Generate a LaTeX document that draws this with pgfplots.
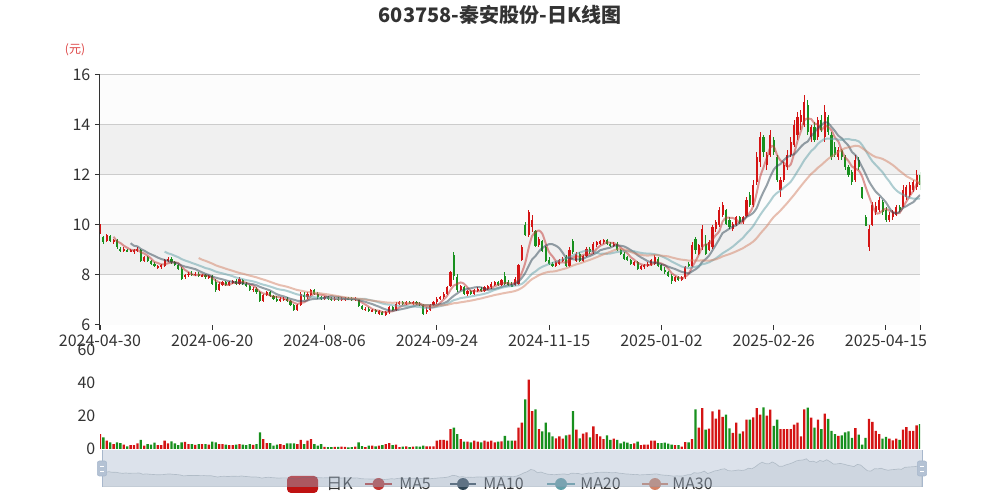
\documentclass[border=0pt]{standalone}
\usepackage{fontspec}
\setmainfont{Noto Sans CJK SC}
\usepackage{pgfplots}
\usepackage{pgfplotstable}
\pgfplotsset{compat=1.18}

\definecolor{upc}{HTML}{D41414}
\definecolor{dnc}{HTML}{18901E}
\definecolor{ma5c}{HTML}{C23531}
\definecolor{ma10c}{HTML}{2F4554}
\definecolor{ma20c}{HTML}{61A0A8}
\definecolor{ma30c}{HTML}{D48265}
\definecolor{txt}{HTML}{333333}
\definecolor{bandc}{HTML}{F0F0F0}
\definecolor{lightc}{HTML}{FCFCFC}
\definecolor{gridc}{HTML}{CCCCCC}
\definecolor{fillerc}{HTML}{A7B7CC}
\definecolor{shadowc}{HTML}{2F4554}

% daily candles: index, open, high, low, close, volume
\pgfplotstableread{
i o h l c v
0 9.70 10.05 9.65 10.00 9
1 9.50 9.55 9.25 9.30 7
2 9.35 9.65 9.30 9.60 5
3 9.55 9.60 9.30 9.35 4
4 9.35 9.45 9.25 9.40 3
5 9.40 9.45 9.05 9.10 4
6 9.05 9.10 8.90 8.95 3.5
7 8.95 9.10 8.90 9.05 2.6
8 9.00 9.05 8.90 8.95 1.6
9 8.95 9.05 8.90 9.00 2.3
10 8.90 9.05 8.85 9.00 2.3
11 8.95 9.10 8.90 9.05 3.4
12 9.00 9.05 8.50 8.55 5.6
13 8.55 8.75 8.50 8.70 2
14 8.70 8.75 8.50 8.55 3
15 8.55 8.60 8.40 8.45 2.6
16 8.45 8.50 8.30 8.35 3.8
17 8.30 8.40 8.25 8.35 2.4
18 8.30 8.45 8.25 8.40 2.4
19 8.35 8.65 8.30 8.60 5
20 8.55 8.70 8.50 8.65 3.4
21 8.65 8.70 8.45 8.50 4.6
22 8.50 8.55 8.35 8.40 3.4
23 8.40 8.45 8.20 8.25 2.4
24 8.25 8.30 7.80 7.85 4
25 7.90 8.05 7.85 8.00 4.3
26 8.00 8.10 7.90 8.05 3
27 8.05 8.15 7.95 8.00 3
28 8.00 8.10 7.95 8.05 2.5
29 8.05 8.10 7.90 7.95 3
30 7.95 8.05 7.90 8.00 3
31 8.00 8.05 7.85 7.90 3
32 7.90 8.00 7.85 7.95 2.6
33 7.95 8.00 7.60 7.65 4.5
34 7.70 7.85 7.30 7.40 4
35 7.40 7.70 7.35 7.65 3
36 7.60 7.75 7.55 7.70 3
37 7.70 7.75 7.55 7.60 2.6
38 7.60 7.75 7.55 7.70 2.4
39 7.70 7.80 7.65 7.75 2.4
40 7.75 7.85 7.60 7.65 2.6
41 7.65 7.90 7.60 7.85 3
42 7.80 7.85 7.60 7.65 2.6
43 7.65 7.70 7.50 7.55 2.4
44 7.55 7.60 7.35 7.40 3
45 7.40 7.50 7.30 7.45 2.5
46 7.45 7.50 7.25 7.30 3
47 7.30 7.35 6.90 6.95 10
48 6.95 7.25 6.90 7.20 6
49 7.20 7.35 7.15 7.30 3.5
50 7.30 7.35 7.10 7.15 3.5
51 7.15 7.20 7.00 7.05 2
52 7.05 7.15 6.90 6.95 2.6
53 6.95 7.10 6.90 7.05 3
54 7.00 7.10 6.95 7.05 2.4
55 7.05 7.10 6.90 6.95 3.4
56 6.95 7.00 6.75 6.80 3.4
57 6.80 6.85 6.55 6.60 3.4
58 6.60 6.85 6.55 6.80 3
59 6.80 7.30 6.75 7.25 5.5
60 7.20 7.30 7.00 7.10 3
61 7.10 7.30 7.05 7.25 5
62 7.20 7.45 7.15 7.40 6
63 7.40 7.45 7.20 7.25 3
64 7.25 7.30 7.05 7.10 2
65 7.10 7.15 7.00 7.05 3
66 7.05 7.15 7.00 7.10 1.3
67 7.10 7.15 7.00 7.05 1.2
68 7.05 7.10 6.95 7.00 1.2
69 7.00 7.10 6.95 7.05 1.3
70 7.05 7.10 6.95 7.00 1.3
71 7.00 7.10 6.95 7.05 1.4
72 7.00 7.10 6.95 7.05 1.3
73 7.07 7.10 7.00 7.03 1
74 7.05 7.10 6.95 7.00 1.2
75 7.00 7.10 6.95 7.05 1.4
76 7.05 7.05 6.70 6.75 4
77 6.75 6.80 6.60 6.65 1.8
78 6.60 6.70 6.55 6.65 1.2
79 6.65 6.70 6.50 6.55 2
80 6.55 6.65 6.50 6.60 2
81 6.60 6.62 6.45 6.50 1.6
82 6.45 6.60 6.40 6.55 2
83 6.50 6.55 6.38 6.40 2.4
84 6.40 6.55 6.35 6.50 3
85 6.50 6.75 6.45 6.70 3.5
86 6.70 6.75 6.55 6.60 2.4
87 6.60 6.90 6.55 6.85 2.6
88 6.85 6.95 6.80 6.90 1.2
89 6.90 6.95 6.80 6.85 1.4
90 6.85 6.95 6.80 6.90 1.6
91 6.90 6.95 6.82 6.85 1.2
92 6.85 6.95 6.80 6.90 1.5
93 6.90 6.95 6.80 6.85 1.6
94 6.85 6.90 6.75 6.80 1.4
95 6.80 6.82 6.40 6.45 2
96 6.50 6.70 6.45 6.60 1.6
97 6.60 6.85 6.55 6.80 1.6
98 6.80 6.95 6.75 6.90 1.6
99 6.90 7.10 6.85 7.05 5
100 7.05 7.15 7.00 7.10 5.6
101 7.10 7.30 7.05 7.25 5.6
102 7.25 7.55 7.20 7.50 5
103 7.55 8.15 7.50 8.10 12
104 8.80 8.90 7.80 7.95 13
105 7.90 8.05 7.30 7.40 9
106 7.40 7.60 7.35 7.55 6
107 7.50 7.55 7.20 7.25 4.5
108 7.25 7.40 7.15 7.35 4.5
109 7.35 7.40 7.20 7.25 4
110 7.25 7.45 7.20 7.40 5
111 7.35 7.50 7.30 7.45 4.5
112 7.45 7.50 7.30 7.35 4
113 7.35 7.55 7.30 7.50 5
114 7.45 7.60 7.40 7.55 4.5
115 7.50 7.70 7.45 7.65 5
116 7.60 7.75 7.55 7.70 4
117 7.70 7.75 7.55 7.60 4.5
118 7.60 7.85 7.55 7.80 4.6
119 7.95 8.10 7.60 7.65 8
120 7.70 7.80 7.55 7.60 5
121 7.60 7.70 7.50 7.55 5
122 7.60 7.90 7.55 7.85 5
123 7.65 8.45 7.60 8.40 13
124 8.60 9.20 8.55 9.10 16
125 10.00 10.10 9.55 9.60 30
126 9.60 10.60 9.50 10.50 42
127 9.90 10.40 9.70 10.20 23
128 9.75 9.80 9.10 9.15 24
129 9.20 9.50 9.10 9.45 12
130 9.35 9.40 8.90 8.95 10.7
131 9.10 9.15 8.50 8.55 16
132 8.60 8.70 8.40 8.45 10
133 8.45 8.50 8.30 8.35 7.7
134 8.35 8.55 8.30 8.50 6.5
135 8.45 8.65 8.40 8.60 7.7
136 8.55 8.70 8.50 8.65 6.3
137 8.70 8.80 8.30 8.35 8.3
138 8.35 9.10 8.30 9.00 8.7
139 9.35 9.45 8.85 8.90 23
140 8.55 8.90 8.50 8.85 11.7
141 8.85 8.90 8.50 8.55 6.5
142 8.55 8.80 8.50 8.75 9.3
143 8.75 9.10 8.70 9.05 10
144 9.05 9.10 8.85 8.90 7
145 8.90 9.30 8.85 9.25 13.7
146 9.20 9.35 9.10 9.30 9
147 9.25 9.40 9.20 9.35 7.7
148 9.30 9.45 9.25 9.40 6
149 9.40 9.45 9.20 9.25 8.3
150 9.25 9.30 9.10 9.15 5.6
151 9.15 9.30 9.10 9.25 6.3
152 9.25 9.30 8.95 9.00 5.6
153 9.00 9.05 8.80 8.85 3.4
154 8.85 8.90 8.60 8.65 4.4
155 8.70 8.75 8.55 8.60 3.8
156 8.60 8.65 8.40 8.45 3
157 8.40 8.55 8.35 8.50 3.4
158 8.50 8.55 8.20 8.25 4.4
159 8.25 8.40 8.20 8.35 2.4
160 8.30 8.45 8.25 8.40 2.6
161 8.35 8.50 8.30 8.45 2.6
162 8.40 8.65 8.35 8.60 5
163 8.45 8.80 8.40 8.70 5
164 8.65 8.70 8.30 8.35 3.6
165 8.40 8.45 8.15 8.20 3.6
166 8.20 8.30 8.05 8.10 3.8
167 8.10 8.15 7.90 7.95 3.2
168 7.95 8.05 7.65 7.75 2.6
169 7.75 7.95 7.70 7.90 2.4
170 7.90 7.95 7.75 7.80 2.4
171 7.80 7.95 7.75 7.90 1.5
172 7.90 8.35 7.85 8.30 4.2
173 8.45 8.50 8.30 8.35 4
174 8.35 9.30 8.30 9.20 6
175 9.45 9.50 8.85 9.00 24
176 8.85 9.25 8.80 9.20 13
177 9.10 10.00 9.00 9.85 24.8
178 9.25 9.60 8.80 8.85 11.7
179 9.00 9.40 8.95 9.30 12.3
180 9.10 10.00 9.05 9.90 22.8
181 9.85 10.20 9.70 10.10 18.4
182 10.00 10.70 9.90 10.60 23.8
183 10.40 10.90 10.30 10.80 19.4
184 10.60 10.65 10.00 10.05 20.8
185 10.20 10.30 9.85 9.90 12.5
186 9.85 10.10 9.75 10.05 9.7
187 10.00 10.35 9.95 10.30 16
188 10.30 10.35 10.05 10.10 9.3
189 10.10 10.35 10.05 10.30 10.7
190 10.35 11.10 10.30 11.00 17.8
191 11.20 11.30 10.70 10.80 17.8
192 10.80 11.80 10.70 11.60 19.2
193 11.70 12.90 11.60 12.70 24.8
194 12.50 13.70 12.30 13.50 20.8
195 13.50 13.60 12.70 12.90 25.2
196 12.40 12.90 12.20 12.80 20.2
197 12.80 13.80 12.70 13.60 23.8
198 13.40 13.50 12.80 12.90 14
199 12.70 12.80 11.70 11.80 17.8
200 11.40 11.90 11.10 11.80 12
201 11.80 12.50 11.70 12.40 12
202 12.30 13.00 12.20 12.80 12
203 12.80 13.50 12.70 13.30 12
204 13.20 14.20 13.10 14.00 14.7
205 13.60 14.50 13.40 14.30 16
206 14.10 14.60 13.80 14.40 7.7
207 14.00 15.20 13.90 14.90 24
208 14.80 15.00 13.60 13.70 25
209 13.50 14.00 13.30 13.90 19
210 13.90 14.10 13.30 13.40 13
211 13.50 14.30 13.40 14.20 17.8
212 14.20 14.40 13.70 13.80 12
213 13.50 14.80 13.30 14.50 21.4
214 14.30 14.40 13.60 13.70 18.2
215 13.60 13.70 12.60 12.70 11
216 13.10 13.30 12.70 12.80 9
217 12.70 13.10 12.60 13.00 8
218 13.00 13.05 12.60 12.70 8.3
219 12.70 12.80 12.20 12.30 10
220 12.30 12.40 11.90 12.00 10.7
221 12.10 12.20 11.60 11.70 6.7
222 11.80 12.80 11.70 12.60 12.7
223 12.60 12.70 12.20 12.30 8.7
224 11.50 11.50 11.05 11.07 2.6
225 10.30 10.40 9.95 9.96 6.7
226 9.10 10.00 8.96 9.85 18.2
227 10.00 10.90 9.95 10.80 16.4
228 10.50 10.90 10.40 10.75 11
229 10.60 11.10 10.50 11.00 9
230 10.90 11.00 10.40 10.50 6.3
231 10.60 10.70 10.10 10.20 7.3
232 10.20 10.50 10.10 10.40 6.3
233 10.30 10.60 10.20 10.50 5.3
234 10.40 10.80 10.35 10.70 6.3
235 10.70 10.80 10.50 10.60 5.6
236 10.70 11.60 10.70 11.40 11.7
237 11.10 11.60 11.00 11.50 13.3
238 11.20 11.70 11.10 11.60 11
239 11.40 11.80 11.30 11.70 11
240 11.50 12.20 11.40 12.00 14.3
241 12.00 12.10 11.40 11.60 15
}\kdata

% running sum of closes (kept in \csv@<row> too), then moving averages from it
\newcount\marow
\global\marow=0
\def\csacc{0}
\pgfplotstablecreatecol[create col/assign/.code={%
  \getthisrow{c}\cval
  \pgfmathsetmacro\csnew{\csacc+\cval}%
  \xdef\csacc{\csnew}%
  \expandafter\xdef\csname csv@\the\marow\endcsname{\csnew}%
  \global\advance\marow by 1
  \pgfkeyslet{/pgfplots/table/create col/next content}\csnew}]{cs}\kdata

\newcommand\addma[2]{%
  \global\marow=0
  \pgfplotstablecreatecol[create col/assign/.code={%
    \ifnum\marow<\numexpr#1-1\relax
      \def\maval{nan}%
    \else
      \edef\macur{\csname csv@\the\marow\endcsname}%
      \ifnum\marow<#1\relax
        \def\maprev{0}%
      \else
        \edef\maprev{\csname csv@\the\numexpr\marow-#1\relax\endcsname}%
      \fi
      \pgfmathsetmacro\maval{(\macur-\maprev)/#1}%
    \fi
    \global\advance\marow by 1
    \pgfkeyslet{/pgfplots/table/create col/next content}\maval}]{#2}\kdata}
\addma{5}{ma5}
\addma{10}{ma10}
\addma{20}{ma20}
\addma{30}{ma30}

\pgfplotsset{
  kgrid/.style={scale only axis, width=615pt, xmin=0, xmax=241,
    tick label style={font=\fontsize{12}{14}\selectfont, text=txt},
    /pgf/number format/assume math mode=true},
  upbar/.style={restrict expr to domain={\thisrow{c}-\thisrow{o}}{0:100}},
  dnbar/.style={restrict expr to domain={\thisrow{c}-\thisrow{o}}{-100:-0.0001}},
  candle/.style={draw=none, mark=none, forget plot,
    error bars/y dir=both, error bars/y explicit, error bars/error mark=none},
}

\begin{document}
\begin{tikzpicture}
\path[use as bounding box] (0,0) rectangle (750pt,375pt);

\node[font=\fontsize{15}{18}\selectfont\bfseries, text=txt] at (375pt,363.75pt) {603758-秦安股份-日K线图};
\node[font=\fontsize{9}{11}\selectfont, text=upc!80] at (56.25pt,337.5pt) {(元)};

% volume
\begin{axis}[kgrid, at={(75pt,38.25pt)}, anchor=south west, height=74.25pt,
  ymin=0, ymax=60, ytick={0,20,40,60},
  hide x axis, axis y line*=left,
  y axis line style={draw=none}, ytick style={draw=none}]
\addplot[ybar, bar width=1.75pt, bar shift=0pt, fill=upc, draw=none, upbar] table[x=i, y=v]{\kdata};
\addplot[ybar, bar width=1.75pt, bar shift=0pt, fill=dnc, draw=none, dnbar] table[x=i, y=v]{\kdata};
\end{axis}

% price
\begin{axis}[kgrid, at={(75pt,131.25pt)}, anchor=south west, height=187.5pt,
  ymin=6, ymax=16, ytick={6,8,...,16},
  xtick={0,33,66,99,132,165,198,231,241},
  xticklabels={2024-04-30,2024-06-20,2024-08-06,2024-09-24,2024-11-15,2025-01-02,2025-02-26,2025-04-15,{}},
  axis x line*=bottom, axis y line*=left,
  axis line style={draw=txt, line width=0.75pt},
  tick style={draw=txt, line width=0.75pt},
  tick align=outside, major tick length=3.75pt]
% split areas and grid lines
\fill[lightc] (axis cs:0,6) rectangle (axis cs:241,8);
\fill[bandc] (axis cs:0,8) rectangle (axis cs:241,10);
\fill[lightc] (axis cs:0,10) rectangle (axis cs:241,12);
\fill[bandc] (axis cs:0,12) rectangle (axis cs:241,14);
\fill[lightc] (axis cs:0,14) rectangle (axis cs:241,16);
\draw[gridc, line width=0.75pt] (axis cs:0,8) -- (axis cs:241,8);
\draw[gridc, line width=0.75pt] (axis cs:0,10) -- (axis cs:241,10);
\draw[gridc, line width=0.75pt] (axis cs:0,12) -- (axis cs:241,12);
\draw[gridc, line width=0.75pt] (axis cs:0,14) -- (axis cs:241,14);
\draw[gridc, line width=0.75pt] (axis cs:0,16) -- (axis cs:241,16);
% wicks
\addplot[candle, upbar, error bars/error bar style={draw=upc, line width=0.7pt}]
  table[x=i, y expr=0.5*(\thisrow{h}+\thisrow{l}), y error expr=0.5*(\thisrow{h}-\thisrow{l})]{\kdata};
\addplot[candle, dnbar, error bars/error bar style={draw=dnc, line width=0.7pt}]
  table[x=i, y expr=0.5*(\thisrow{h}+\thisrow{l}), y error expr=0.5*(\thisrow{h}-\thisrow{l})]{\kdata};
% bodies
\addplot[candle, upbar, error bars/error bar style={draw=upc, line width=1.6pt}]
  table[x=i, y expr=0.5*(\thisrow{o}+\thisrow{c}), y error expr=0.5*abs(\thisrow{c}-\thisrow{o})]{\kdata};
\addplot[candle, dnbar, error bars/error bar style={draw=dnc, line width=1.6pt}]
  table[x=i, y expr=0.5*(\thisrow{o}+\thisrow{c}), y error expr=0.5*abs(\thisrow{c}-\thisrow{o})]{\kdata};
% moving averages
\addplot[ma5c, draw opacity=0.5, line width=1.5pt, smooth, mark=none] table[x=i, y=ma5]{\kdata};
\addplot[ma10c, draw opacity=0.5, line width=1.5pt, smooth, mark=none] table[x=i, y=ma10]{\kdata};
\addplot[ma20c, draw opacity=0.5, line width=1.5pt, smooth, mark=none] table[x=i, y=ma20]{\kdata};
\addplot[ma30c, draw opacity=0.5, line width=1.5pt, smooth, mark=none] table[x=i, y=ma30]{\kdata};
\end{axis}

% legend
\begin{scope}[font=\fontsize{12}{14}\selectfont]
  \fill[upc!90!black, rounded corners=3pt] (215.25pt,5.25pt) rectangle (238.5pt,18pt);
  \node[anchor=west, text=txt, inner sep=0pt] at (244.5pt,12pt) {日K};
  \draw[ma5c, line width=1.5pt] (273.75pt,12pt) -- (294pt,12pt);
  \fill[ma5c] (283.9pt,12pt) circle (4.5pt);
  \node[anchor=west, text=txt, inner sep=0pt] at (299.25pt,12pt) {MA5};
  \draw[ma10c, line width=1.5pt] (337.5pt,12pt) -- (357pt,12pt);
  \fill[ma10c] (347.25pt,12pt) circle (4.5pt);
  \node[anchor=west, text=txt, inner sep=0pt] at (362.25pt,12pt) {MA10};
  \draw[ma20c, line width=1.5pt] (410.25pt,12pt) -- (431.25pt,12pt);
  \fill[ma20c] (420.75pt,12pt) circle (4.5pt);
  \node[anchor=west, text=txt, inner sep=0pt] at (435pt,12pt) {MA20};
  \draw[ma30c, line width=1.5pt] (481.5pt,12pt) -- (501pt,12pt);
  \fill[ma30c] (491.25pt,12pt) circle (4.5pt);
  \node[anchor=west, text=txt, inner sep=0pt] at (504pt,12pt) {MA30};
\end{scope}

% data zoom slider with close-price shadow
\begin{axis}[scale only axis, at={(76.5pt,9.75pt)}, anchor=south west, width=615pt, height=27.75pt,
  xmin=0, xmax=241, ymin=3.3, ymax=18.5, hide axis]
\addplot[draw=shadowc, draw opacity=0.3, line width=0.5pt, fill=shadowc, fill opacity=0.1] table[x=i, y=c]{\kdata} \closedcycle;
\end{axis}
\fill[fillerc, fill opacity=0.4] (76.5pt,9.75pt) rectangle (691.5pt,37.5pt);
\draw[fillerc, line width=0.75pt] (76.5pt,9.75pt) -- (76.5pt,37.5pt);
\draw[fillerc, line width=0.75pt] (691.5pt,9.75pt) -- (691.5pt,37.5pt);
\foreach \hx in {76.5pt,691.5pt} {
  \fill[fillerc!85, draw=fillerc, line width=0.4pt, rounded corners=1.5pt]
    ([xshift=-3.5pt]\hx,18pt) rectangle ([xshift=3.5pt]\hx,29.25pt);
  \draw[white, line width=0.6pt] ([xshift=-1.5pt]\hx,25.5pt) -- ([xshift=1.5pt]\hx,25.5pt);
  \draw[white, line width=0.6pt] ([xshift=-1.5pt]\hx,21.75pt) -- ([xshift=1.5pt]\hx,21.75pt);
}
\end{tikzpicture}
\end{document}
